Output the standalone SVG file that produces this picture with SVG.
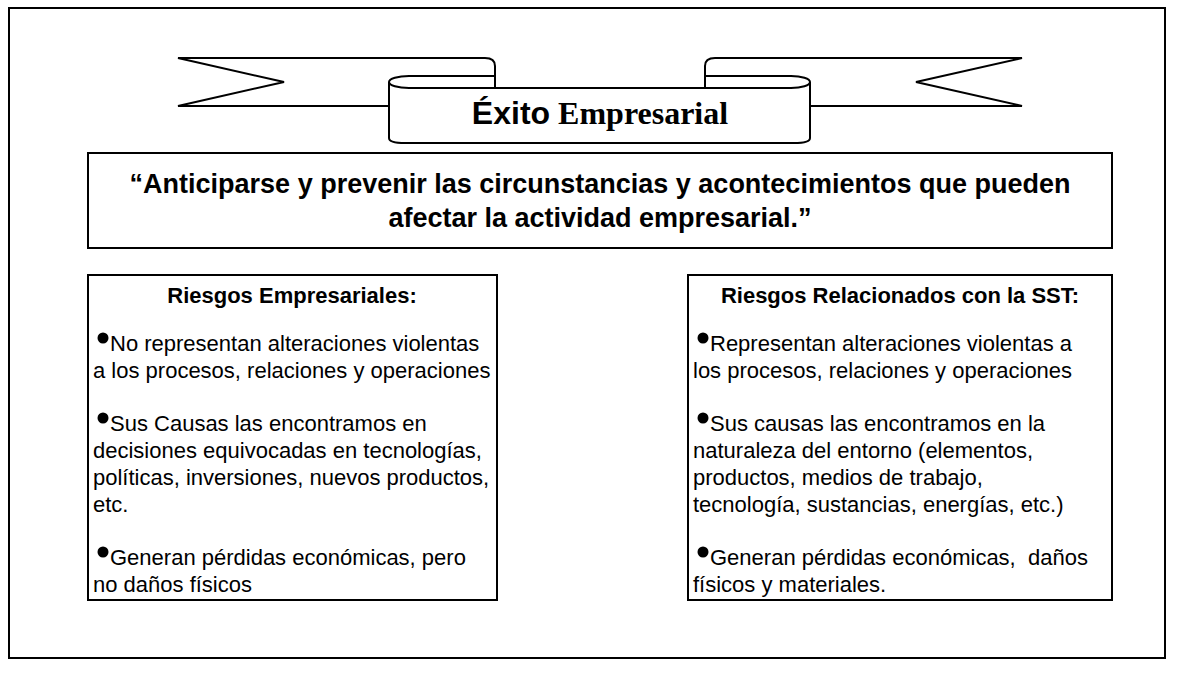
<svg xmlns="http://www.w3.org/2000/svg" width="1204" height="700" viewBox="0 0 1204 700">
<style>
.ln{fill:#fff;stroke:#000;stroke-width:2;stroke-linejoin:miter}
.nf{fill:none;stroke:#000;stroke-width:2}
.t{font-family:"Liberation Sans",Arial,sans-serif;font-size:22px;fill:#000}
.h{font-family:"Liberation Sans",Arial,sans-serif;font-size:22px;font-weight:bold;fill:#000}
.q{font-family:"Liberation Sans",Arial,sans-serif;font-size:27px;font-weight:bold;fill:#000}
</style>
<rect x="9" y="8" width="1156" height="650" fill="#fff" stroke="#000" stroke-width="2"/>
<g id="banner">
<path class="ln" d="M178,58 H485 Q495,58 495,66 V106 H178 L284,82 Z"/>
<path class="ln" d="M1022,58 H715 Q705,58 705,66 V106 H1022 L916,82 Z"/>
<path fill="#fff" d="M495,76 H409 A20,6 0 0 0 389,82 V138 Q389,143 405,143 H794 Q810,143 810,138 V82 A19,6 0 0 0 791,76 H705 V88 H495 Z"/>
<path class="nf" d="M495,76 H409 A20,6 0 0 0 389,82 V138 Q389,143 405,143 H794 Q810,143 810,138 V82 A19,6 0 0 0 791,76 H705"/>
<path class="nf" d="M389,82 A20,6 0 0 0 409,88 H791 A19,6 0 0 0 810,82"/>
<path class="nf" d="M495,66 V88 M705,66 V88"/>
<text x="600" y="124" text-anchor="middle" font-size="32" font-weight="bold"><tspan font-family="Liberation Sans, Arial, sans-serif">Éxito</tspan> <tspan font-family="Liberation Serif, Times New Roman, serif">Empresarial</tspan></text>
</g>
<g id="quote">
<rect class="ln" x="88" y="153" width="1024" height="95"/>
<text class="q" x="600" y="193" text-anchor="middle">“Anticiparse y prevenir las circunstancias y acontecimientos que pueden</text>
<text class="q" x="600" y="227" text-anchor="middle">afectar la actividad empresarial.”</text>
</g>
<g id="riesgos-empresariales">
<rect class="ln" x="88" y="275" width="409" height="325"/>
<text class="h" x="292" y="303" text-anchor="middle">Riesgos Empresariales:</text>
<circle cx="103" cy="338" r="5.5"/>
<text class="t" x="110" y="351">No representan alteraciones violentas</text>
<text class="t" x="93" y="378">a los procesos, relaciones y operaciones</text>
<circle cx="103" cy="418" r="5.5"/>
<text class="t" x="110" y="431">Sus Causas las encontramos en</text>
<text class="t" x="93" y="458">decisiones equivocadas en tecnologías,</text>
<text class="t" x="93" y="485">políticas, inversiones, nuevos productos,</text>
<text class="t" x="93" y="512">etc.</text>
<circle cx="103" cy="552" r="5.5"/>
<text class="t" x="110" y="565">Generan pérdidas económicas, pero</text>
<text class="t" x="93" y="592">no daños físicos</text>
</g>
<g id="riesgos-sst">
<rect class="ln" x="688" y="275" width="424" height="325"/>
<text class="h" x="900" y="303" text-anchor="middle">Riesgos Relacionados con la SST:</text>
<circle cx="703" cy="338" r="5.5"/>
<text class="t" x="710" y="351">Representan alteraciones violentas a</text>
<text class="t" x="693" y="378">los procesos, relaciones y operaciones</text>
<circle cx="703" cy="418" r="5.5"/>
<text class="t" x="710" y="431">Sus causas las encontramos en la</text>
<text class="t" x="693" y="458">naturaleza del entorno (elementos,</text>
<text class="t" x="693" y="485">productos, medios de trabajo,</text>
<text class="t" x="693" y="512">tecnología, sustancias, energías, etc.)</text>
<circle cx="703" cy="552" r="5.5"/>
<text class="t" x="710" y="565" xml:space="preserve">Generan pérdidas económicas,  daños</text>
<text class="t" x="693" y="592">físicos y materiales.</text>
</g>
</svg>
